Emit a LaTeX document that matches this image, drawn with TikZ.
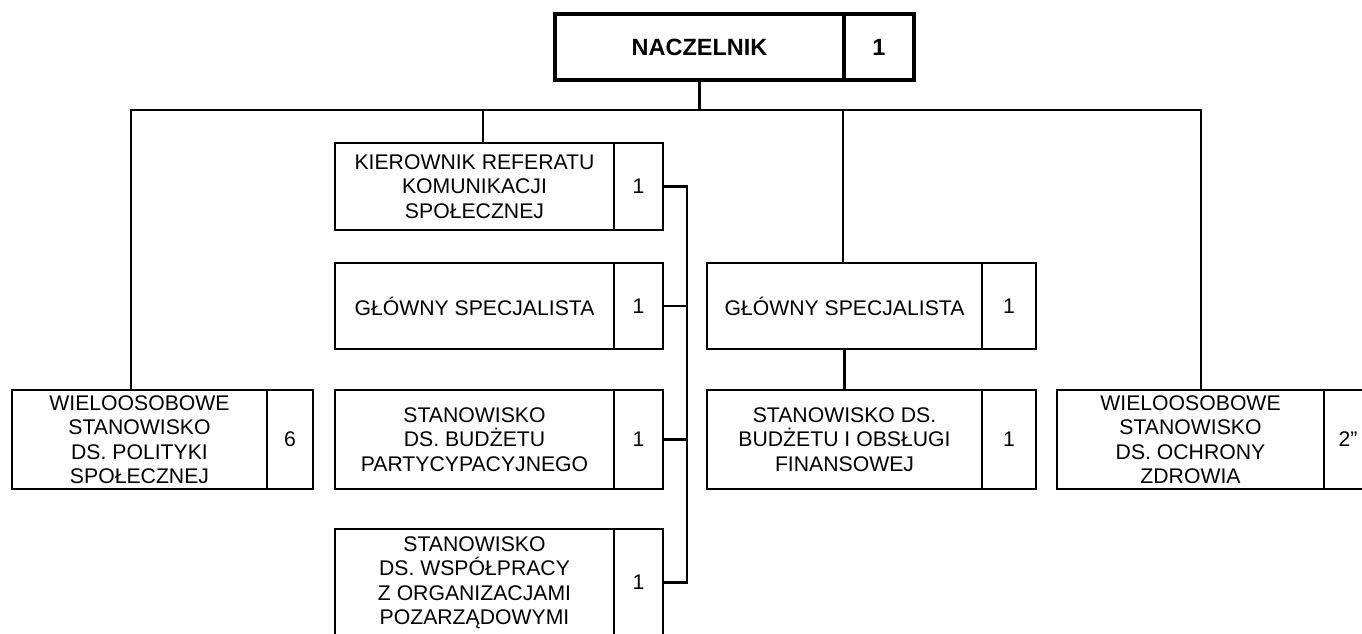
\documentclass[tikz,border=0pt]{standalone}
\usepackage{fontspec}
\setmainfont{Liberation Sans}
\begin{document}
\begin{tikzpicture}[x=1pt,y=-1pt,
  box/.style={draw, line width=2.2pt, rectangle, inner sep=0pt, outer sep=0pt, align=center, anchor=north west, font=\fontsize{21.2}{24.5}\selectfont},
  bigbox/.style={draw, line width=4.5pt, rectangle, inner sep=0pt, outer sep=0pt, align=center, anchor=north west, font=\fontsize{23.5}{27}\selectfont\bfseries},
  conn/.style={line width=2.2pt, line join=miter}]
\useasboundingbox (0,0) rectangle (1362,634);
\clip (0,0) rectangle (1362,634);
% top
\node[bigbox, minimum width=289pt, minimum height=66pt] (nacz) at (555,14) {NACZELNIK};
\node[bigbox, minimum width=70pt, minimum height=66pt] (naczn) at (nacz.north east) {1};
% left
\node[box, minimum width=255pt, minimum height=99pt] (L) at (12,390) {WIELOOSOBOWE\\STANOWISKO\\DS. POLITYKI\\SPOŁECZNEJ};
\node[box, minimum width=46pt, minimum height=99pt] (Ln) at (L.north east) {6};
% middle column
\node[box, minimum width=279pt, minimum height=87pt] (k1) at (335,143) {KIEROWNIK REFERATU\\KOMUNIKACJI\\SPOŁECZNEJ};
\node[box, minimum width=49pt, minimum height=87pt] (k1n) at (k1.north east) {1};
\node[box, minimum width=279pt, minimum height=86pt] (k2) at (335,263) {GŁÓWNY SPECJALISTA};
\node[box, minimum width=49pt, minimum height=86pt] (k2n) at (k2.north east) {1};
\node[box, minimum width=279pt, minimum height=99pt] (k3) at (335,390) {STANOWISKO\\DS. BUDŻETU\\PARTYCYPACYJNEGO};
\node[box, minimum width=49pt, minimum height=99pt] (k3n) at (k3.north east) {1};
\node[box, minimum width=279pt, minimum height=107pt] (k4) at (335,529) {STANOWISKO\\DS. WSPÓŁPRACY\\Z ORGANIZACJAMI\\POZARZĄDOWYMI};
\node[box, minimum width=49pt, minimum height=107pt] (k4n) at (k4.north east) {1};
% right-middle column
\node[box, minimum width=275pt, minimum height=86pt] (g1) at (707,263) {GŁÓWNY SPECJALISTA};
\node[box, minimum width=54pt, minimum height=86pt] (g1n) at (g1.north east) {1};
\node[box, minimum width=275pt, minimum height=99pt] (s1) at (707,390) {STANOWISKO DS.\\BUDŻETU I OBSŁUGI\\FINANSOWEJ};
\node[box, minimum width=54pt, minimum height=99pt] (s1n) at (s1.north east) {1};
% right
\node[box, minimum width=267pt, minimum height=99pt] (R) at (1057,390) {WIELOOSOBOWE\\STANOWISKO\\DS. OCHRONY\\ZDROWIA};
\node[box, minimum width=48pt, minimum height=99pt] (Rn) at (R.north east) {2”};
% connectors
\coordinate (busL) at (131,110);
\coordinate (busK) at (483,110);
\coordinate (busG) at (843,110);
\coordinate (busR) at (1201,110);
\coordinate (colbus) at (687,300);
\draw[conn] (nacz.south) -- (nacz.south |- busL);
\draw[conn] (busL |- L.north) -- (busL) -- (busR) -- (busR |- R.north);
\draw[conn] (busK) -- (busK |- k1.north);
\draw[conn] (busG) -- (busG |- g1.north);
\draw[conn] (g1.south) -- (s1.north);
\draw[conn] (k1n.east) -- (k1n.east -| colbus) -- (k4n.east -| colbus) -- (k4n.east);
\draw[conn] (k2n.east) -- (k2n.east -| colbus);
\draw[conn] (k3n.east) -- (k3n.east -| colbus);
\end{tikzpicture}
\end{document}
